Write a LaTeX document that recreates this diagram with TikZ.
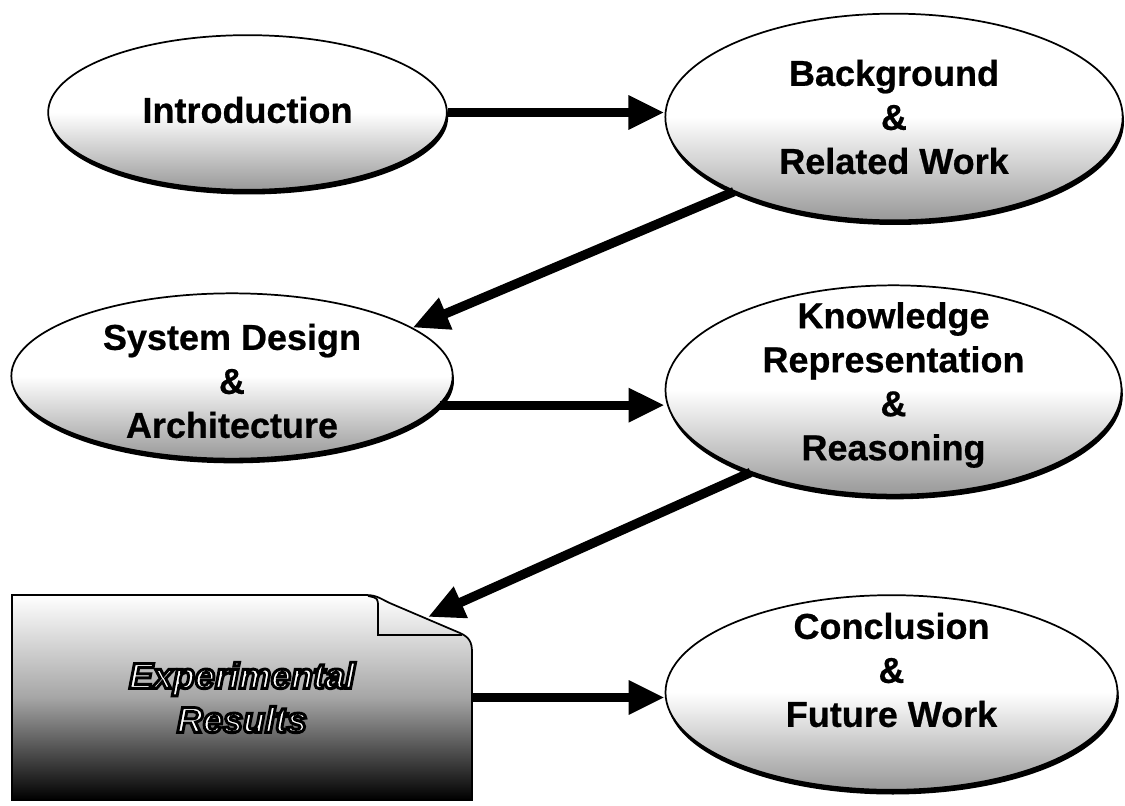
\documentclass[tikz,border=0pt]{standalone}
\usepackage{fontspec}
\setsansfont{Liberation Sans}[BoldFeatures={FakeBold=0.6}]
\usepackage{tikz}
\usetikzlibrary{shapes.geometric,shadows,arrows.meta}
% white letters with a black outline
\newcommand\outlined[1]{\special{pdf:literal direct 2 Tr 2.2 w 0 G}#1\special{pdf:literal direct 0 Tr}}

\begin{document}
\begin{tikzpicture}[
  x=0.75pt, y=-0.75pt,
  oval/.style={ellipse, draw, line width=1.3pt, inner sep=0pt,
    top color=white, bottom color=black!40, middle color=white,
    drop shadow={shadow xshift=1pt, shadow yshift=-3.5pt, opacity=1, fill=black}},
  lbl/.style={align=center, font=\sffamily\bfseries\fontsize{27}{33}\selectfont},
  flow/.style={line width=7pt, -{Triangle[length=27pt, width=24pt]}}
]
\useasboundingbox (0,0) rectangle (1125,806);

% the results page, corner turned down
\draw[line width=1.3pt, top color=white, bottom color=black, middle color=black!35]
  (12,595) -- (366,595) .. controls (378,595) and (382,600) .. (392,604)
  -- (460,633) .. controls (469,637) and (472,642) .. (472,652)
  -- (472,800) -- (12,800) -- cycle;
\draw[line width=1.3pt] (368,596) .. controls (378,598) .. (378,608) -- (378,635) -- (462,635);
\coordinate (fold) at (428,617);
\node[minimum width=345pt, minimum height=154pt, text=white,
  font=\sffamily\bfseries\itshape\fontsize{27}{33}\selectfont, align=center]
  (exp) at (242,697.5) {\outlined{Experimental}\\\outlined{Results}};

% chapters
\node[oval, minimum width=299pt, minimum height=116pt] (intro) at (247.5,112.5) {};
\node[oval, minimum width=343pt, minimum height=155pt] (back) at (894,117) {};
\node[oval, minimum width=331pt, minimum height=124pt] (sys) at (232,376) {};
\node[oval, minimum width=342pt, minimum height=157pt] (know) at (893.5,390) {};
\node[oval, minimum width=339pt, minimum height=146pt] (conc) at (891.5,692.5) {};

\node[lbl] (introtxt) at (247.5,110) {Introduction};
\node[lbl] (backtxt) at (894,117) {Background\\\&\\Related Work};
\node[lbl] (systxt) at (232,381) {System Design\\\&\\Architecture};
\node[lbl] (knowtxt) at (893.5,385) {Knowledge\\Representation\\\&\\Reasoning};
\node[lbl] (conctxt) at (891.5,670) {Conclusion\\\&\\Future Work};

% reading order
\draw[flow] (intro.east) -- (intro.east -| back.west);
\draw[flow] (back.205) -- (sys.15);
\draw[flow] (sys.-8) -- (sys.-8 -| know.west);
\draw[flow] (know.210) -- (fold);
\draw[flow] (exp.east) -- (exp.east -| conc.west);

\end{tikzpicture}
\end{document}
